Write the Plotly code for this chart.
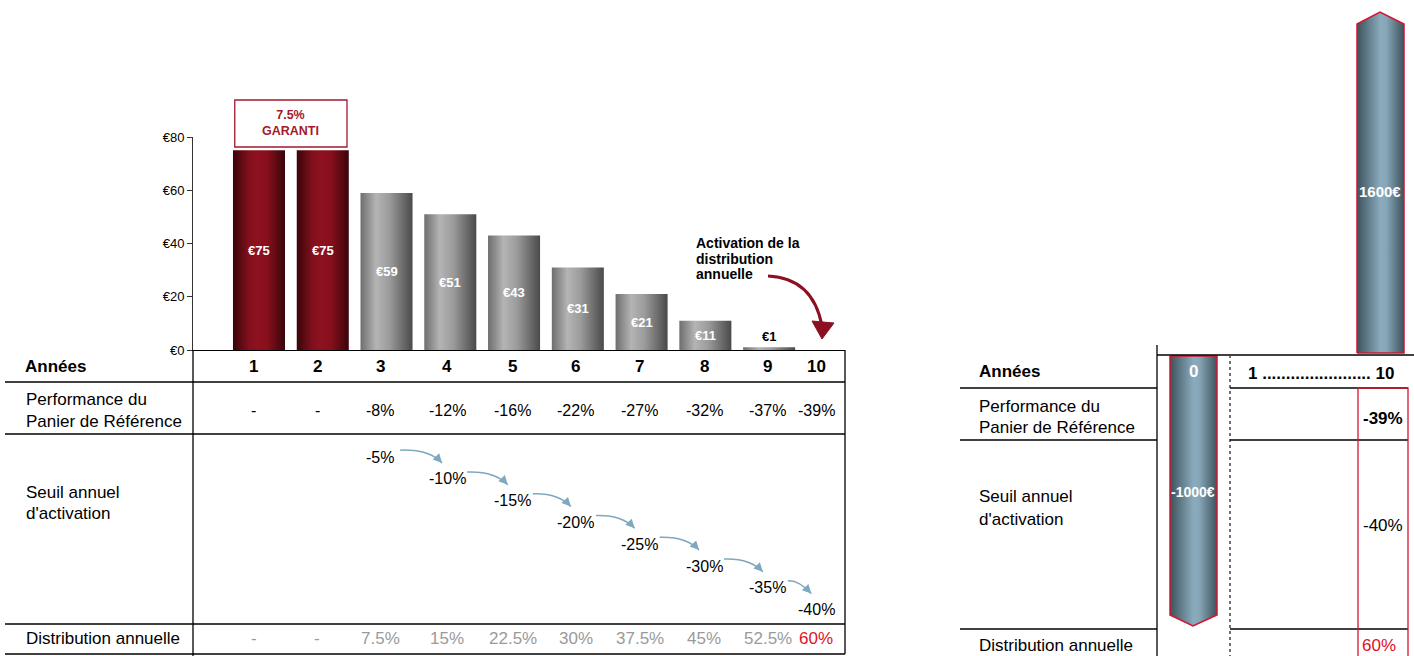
import math
import plotly.graph_objects as go

W, H = 1414, 656

# ---------------- data ----------------
years = [1, 2, 3, 4, 5, 6, 7, 8, 9, 10]
coupon_eur = [75, 75, 59, 51, 43, 31, 21, 11, 1, 0]
guaranteed_years = [1, 2]
guarantee_text = "7.5%<br>GARANTI"
basket_perf = ["-", "-", "-8%", "-12%", "-16%", "-22%", "-27%", "-32%", "-37%", "-39%"]
threshold_years = [3, 4, 5, 6, 7, 8, 9, 10]
threshold_pct = [-5, -10, -15, -20, -25, -30, -35, -40]
distribution = ["-", "-", "7.5%", "15%", "22.5%", "30%", "37.5%", "45%", "52.5%", "60%"]
activation_year = 10
y_ticks = [0, 20, 40, 60, 80]
activation_text = ["Activation de la", "distribution", "annuelle"]
row_years = "Années"
row_perf = ["Performance du", "Panier de Référence"]
row_threshold = ["Seuil annuel", "d'activation"]
row_distribution = "Distribution annuelle"

summary_years = "1 ....................... 10"
capital_start = "0"
capital_out = -1000
capital_back = 1600
summary_perf = "-39%"
summary_threshold = "-40%"
summary_distribution = "60%"

# ---------------- layout constants ----------------
FONT = "Liberation Sans, Arial, sans-serif"
NARROW = "Liberation Sans Narrow, Arial Narrow, Liberation Sans, Arial, sans-serif"
DARK_RED = "#8c1020"
BRIGHT_RED = "#e0102b"
ARROW_BLUE = "#7fa8bf"
GREY_TXT = "#9a9a9a"

X_PX = (193, 845)            # main x axis extent, pixels
XR = [-0.035, 10.19]         # main x axis range
Y_PX = (350, 137)            # bottom / top of coupon axis, pixels
YR = [0, 80]
T_PX = (626, 434)            # bottom / top of threshold band, pixels
TR = [-43.76, 0.32]          # threshold axis range
BAR_W = 0.816
TABLE_COL = [0.92, 1.91, 2.90, 3.95, 4.98, 5.97, 6.97, 7.98, 8.98, 9.74]

RED_SCALE = [[0, "#3a0409"], [0.3, "#80101c"], [0.45, "#8e111f"],
             [0.65, "#88101d"], [1, "#3a0409"]]
GREY_SCALE = [[0, "#6e6e6e"], [0.3, "#b4b4b4"], [0.55, "#9c9c9c"], [1, "#4a4a4a"]]
BLUE_SCALE = [[0, "#3d525c"], [0.5, "#8aabbd"], [0.62, "#86a7b8"], [1, "#3e535d"]]


def px(x):
    return x / W


def py(y):
    return 1 - y / H


UX = (XR[1] - XR[0]) / (X_PX[1] - X_PX[0])   # x units per pixel
UT = (TR[1] - TR[0]) / (T_PX[0] - T_PX[1])   # threshold units per pixel

fig = go.Figure()

# ---- coupon bars (gradient-filled columns on the main axes) ----
for yr, v in zip(years, coupon_eur):
    if v <= 0:
        continue
    h = BAR_W / 2
    scale = RED_SCALE if yr in guaranteed_years else GREY_SCALE
    fig.add_trace(go.Scatter(
        x=[yr - h, yr + h, yr + h, yr - h, yr - h], y=[0, 0, v, v, 0],
        mode="lines", fill="toself", line=dict(width=0),
        fillgradient=dict(type="horizontal", colorscale=scale),
        hoverinfo="text", text=f"Année {yr} : €{v}",
        xaxis="x", yaxis="y", showlegend=False))

# placeholder trace so the threshold axis exists
fig.add_trace(go.Scatter(x=[None], y=[None], xaxis="x", yaxis="y2", showlegend=False))

# ---- right-hand capital flow arrows (schematic) ----
fig.add_trace(go.Scatter(
    x=[1170, 1217, 1217, 1193, 1170, 1170], y=[356, 356, 615, 626, 615, 356],
    mode="lines", fill="toself", line=dict(color="#d4142f", width=1.5),
    fillgradient=dict(type="horizontal", colorscale=BLUE_SCALE),
    hoverinfo="text", text=f"{capital_out}€", xaxis="x3", yaxis="y3", showlegend=False))
fig.add_trace(go.Scatter(
    x=[1357, 1404, 1404, 1380, 1357, 1357], y=[353, 353, 24, 12, 24, 353],
    mode="lines", fill="toself", line=dict(color="#d4142f", width=1.5),
    fillgradient=dict(type="horizontal", colorscale=BLUE_SCALE),
    hoverinfo="text", text=f"{capital_back}€", xaxis="x3", yaxis="y3", showlegend=False))

ann = []
shapes = []


def text(x, y, s, size=16, color="black", bold=False, family=FONT, xanchor="center",
         xref="paper", yref="paper"):
    if bold:
        s = f"<b>{s}</b>"
    ann.append(dict(x=x, y=y, xref=xref, yref=yref, text=s, showarrow=False,
                    xanchor=xanchor, yanchor="middle",
                    font=dict(size=size, color=color, family=family)))


def line(x0, y0, x1, y1, color="black", width=1.3, dash="solid"):
    shapes.append(dict(type="line", xref="paper", yref="paper",
                       x0=px(x0), y0=py(y0), x1=px(x1), y1=py(y1),
                       line=dict(color=color, width=width, dash=dash)))


# ---- bar value labels ----
for yr, v in zip(years, coupon_eur):
    if v <= 0:
        continue
    if v >= 5:
        text(yr, v / 2, f"€{v}", size=13, color="white", bold=True, xref="x", yref="y")
    else:
        ann.append(dict(x=yr, y=v, xref="x", yref="y", text=f"<b>€{v}</b>",
                        showarrow=False, yanchor="bottom", yshift=1,
                        font=dict(size=13, color="black", family=FONT)))

# ---- guarantee box ----
g0, g1 = min(guaranteed_years), max(guaranteed_years)
shapes.append(dict(type="rect", xref="x", yref="paper",
                   x0=g0 - 0.38, x1=g1 + 0.38, y0=py(147), y1=py(100),
                   line=dict(color="#a3192c", width=1.3), fillcolor="white"))
ann.append(dict(x=(g0 + g1) / 2, xref="x", y=py(123.5), yref="paper",
                text=f"<b>{guarantee_text}</b>", showarrow=False,
                xanchor="center", yanchor="middle",
                font=dict(size=12.5, color="#a3192c", family=FONT)))

# ---- activation note and arrow ----
for i, s in enumerate(activation_text):
    text(px(694), py(243 + i * 15.5), s, size=14, bold=True, xanchor="left")
shapes.append(dict(type="path", xref="paper", yref="paper",
                   path=f"M {px(768)},{py(276)} Q {px(813)},{py(278)} {px(822)},{py(326)}",
                   line=dict(color=DARK_RED, width=3)))
shapes.append(dict(type="path", xref="paper", yref="paper",
                   path=(f"M {px(812)},{py(321)} L {px(834)},{py(323)} "
                         f"L {px(822)},{py(339)} Z"),
                   fillcolor=DARK_RED, line=dict(color=DARK_RED, width=1)))

# ---- left table grid ----
for y in (382, 434, 624, 654):
    line(5, y, 845, y)
line(193, 350, 193, 656)
line(845, 350, 845, 654)

# ---- left table row labels ----
text(px(23), py(366), row_years, size=17, bold=True, xanchor="left")
text(px(24), py(399), row_perf[0], size=17, xanchor="left")
text(px(24), py(421), row_perf[1], size=17, xanchor="left")
text(px(24), py(492), row_threshold[0], size=17, xanchor="left")
text(px(24), py(513), row_threshold[1], size=17, xanchor="left")
text(px(24), py(638), row_distribution, size=17, family=NARROW, xanchor="left")

# ---- left table cells ----
for cx, yr, perf, dist in zip(TABLE_COL, years, basket_perf, distribution):
    text(cx, py(366), str(yr), size=17, bold=True, xref="x")
    text(cx, py(410), perf, xref="x")
    col = BRIGHT_RED if yr == activation_year else GREY_TXT
    text(cx, py(638), dist, size=17, color=col, family=NARROW, xref="x")

# ---- activation thresholds with stepping arrows ----
col_of = dict(zip(years, TABLE_COL))
for i, (yr, v) in enumerate(zip(threshold_years, threshold_pct)):
    cx = col_of[yr]
    text(cx, v, f"{v}%", xref="x", yref="y2")
    if i + 1 < len(threshold_years):
        nx, nv = col_of[threshold_years[i + 1]], threshold_pct[i + 1]
        sx, sy = cx + 20 * UX, v + 7 * UT
        ex, ey = nx - 5 * UX, nv + 16 * UT
        qx, qy = ex - 13 * UX, sy + 1 * UT
        shapes.append(dict(type="path", xref="x", yref="y2",
                           path=f"M {sx},{sy} Q {qx},{qy} {ex},{ey}",
                           line=dict(color=ARROW_BLUE, width=1.5)))
        dxp, dyp = (ex - qx) / UX, (qy - ey) / UT
        n = math.hypot(dxp, dyp)
        ann.append(dict(x=ex, y=ey, xref="x", yref="y2", text="", showarrow=True,
                        ax=-dxp / n * 5, ay=-dyp / n * 5, axref="pixel", ayref="pixel",
                        arrowhead=2, arrowsize=1.2, arrowwidth=1.5,
                        arrowcolor=ARROW_BLUE, standoff=0))

# ---- right summary table ----
line(1157, 355, 1414, 355)
line(1157, 345, 1157, 656)
line(1230, 355, 1230, 656, color="#444", width=1.5, dash="dot")
for y in (388, 440, 629):
    line(960, y, 1157, y)
    line(1230, y, 1408, y)
shapes.append(dict(type="rect", xref="paper", yref="paper",
                   x0=px(1358), x1=px(1408), y0=py(658), y1=py(388),
                   line=dict(color="#d4142f", width=1.3)))

text(px(977), py(372), row_years, size=17, bold=True, xanchor="left")
text(px(977), py(406), row_perf[0], size=17, xanchor="left")
text(px(977), py(427), row_perf[1], size=17, xanchor="left")
text(px(977), py(497), row_threshold[0], size=17, xanchor="left")
text(px(977), py(519), row_threshold[1], size=17, xanchor="left")
text(px(977), py(645), row_distribution, size=17, xanchor="left")

text(px(1193), py(372), capital_start, size=17, bold=True, color="white")
text(px(1193), py(492), f"{capital_out}€", size=14, bold=True, color="white")
text(px(1380), py(191), f"{capital_back}€", size=15, bold=True, color="white")
text(px(1321), py(373), summary_years, size=17, bold=True)
text(px(1383), py(418), summary_perf, size=17, bold=True)
text(px(1383), py(525), summary_threshold, size=17)
text(px(1379), py(645), summary_distribution, size=17, color=BRIGHT_RED)

fig.update_layout(
    width=W, height=H, margin=dict(l=0, r=0, t=0, b=0, pad=0, autoexpand=False),
    paper_bgcolor="white", plot_bgcolor="rgba(0,0,0,0)",
    font=dict(family=FONT, color="black"), showlegend=False,
    xaxis=dict(domain=[px(X_PX[0]), px(X_PX[1])], range=XR, showgrid=False,
               zeroline=False, showticklabels=False, ticks="", showline=True,
               linecolor="black", linewidth=1.3, anchor="y", fixedrange=True,
               automargin=False),
    yaxis=dict(domain=[py(Y_PX[0]), py(Y_PX[1])], range=YR, tickvals=y_ticks,
               ticktext=[f"€{t}" for t in y_ticks], ticks="outside", ticklen=5,
               tickcolor="#333", showline=True, linecolor="#333", linewidth=1,
               showgrid=False, zeroline=False, tickfont=dict(size=13),
               anchor="x", fixedrange=True, automargin=False),
    yaxis2=dict(domain=[py(T_PX[0]), py(T_PX[1])], range=TR, visible=False,
                anchor="x", fixedrange=True, automargin=False),
    xaxis3=dict(domain=[px(1150), 1], range=[1150, 1414], visible=False,
                anchor="y3", fixedrange=True, automargin=False),
    yaxis3=dict(domain=[0, 1], range=[656, 0], visible=False, anchor="x3",
                fixedrange=True, automargin=False),
    annotations=ann, shapes=shapes,
)

fig.write_html("out.html", config={"displayModeBar": False})
